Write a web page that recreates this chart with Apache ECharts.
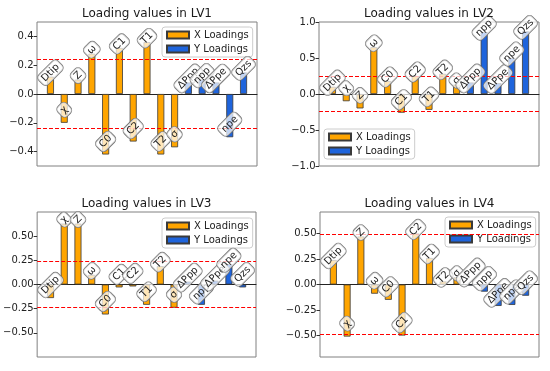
<!DOCTYPE html>
<html><head><meta charset="utf-8">
<script src="https://cdn.jsdelivr.net/npm/echarts@6/dist/echarts.min.js"></script>
<style>html,body{margin:0;padding:0;background:#fff}#c{width:550px;height:371px}</style>
</head><body><div id="c"></div>
<script>
// ---- data ----
const xVars = ['Dtip', 'χ', 'Z', 'ω', 'C0', 'C1', 'C2', 'T1', 'T2', 'σ'];
const yVars = ['ΔPpp', 'npp', 'ΔPpe', 'npe', 'Qzs'];
const titles = ['Loading values in LV1', 'Loading values in LV2', 'Loading values in LV3', 'Loading values in LV4'];

const lv1X = [0.12, -0.20, 0.10, 0.28, -0.42, 0.32, -0.33, 0.36, -0.42, -0.37];
const lv1Y = [0.08, 0.10, 0.08, -0.30, 0.15];
const lv2X = [0.10, -0.10, -0.20, 0.65, 0.18, -0.26, 0.25, -0.22, 0.28, 0.13];
const lv2Y = [0.16, 0.86, 0.15, 0.50, 0.87];
const lv3X = [-0.14, 0.63, 0.63, 0.10, -0.31, -0.03, -0.02, -0.21, 0.19, -0.24];
const lv3Y = [0.03, -0.21, 0.04, 0.21, -0.03];
const lv4X = [0.24, -0.51, 0.47, -0.09, -0.15, -0.50, 0.50, 0.26, 0.03, 0.07];
const lv4Y = [-0.01, -0.07, -0.21, -0.20, -0.11];

const thresholds = [0.24, 0.24, 0.245, 0.49];

const ticks1 = [-0.4, -0.2, 0, 0.2, 0.4];
const ticks2 = [-1, -0.5, 0, 0.5, 1];
const ticks3 = [-0.5, -0.25, 0, 0.25, 0.5];
const ticks4 = [-0.5, -0.25, 0, 0.25, 0.5];

// ---- layout / styles ----
const FONT = 'DejaVu Sans';
const ORANGE = '#FFA500';
const BLUE = '#1E64DC';
const panels = [
  {xv: lv1X, yv: lv1Y, ticks: ticks1, dec: 1, min: -0.5, max: 0.5, grid: {left: 37, top: 22, width: 220, height: 144}, legend: {left: 162, top: 27}},
  {xv: lv2X, yv: lv2Y, ticks: ticks2, dec: 1, min: -1, max: 1, grid: {left: 319, top: 22, width: 220, height: 144}, legend: {left: 324, top: 129}},
  {xv: lv3X, yv: lv3Y, ticks: ticks3, dec: 2, min: -0.75, max: 0.75, grid: {left: 37, top: 212, width: 219, height: 145}, legend: {left: 162, top: 218}},
  {xv: lv4X, yv: lv4Y, ticks: ticks4, dec: 2, min: -0.71, max: 0.71, grid: {left: 320, top: 212, width: 219, height: 145}, legend: {left: 445, top: 217}}
];

const names = xVars.concat(yVars);
function fmt(v, dec) { return (v < -1e-9 ? '\u2212' : '') + Math.abs(v).toFixed(dec); }

const option = {animation: false, title: [], grid: [], xAxis: [], yAxis: [], legend: [], series: []};

panels.forEach((p, k) => {
  option.grid.push(Object.assign({show: true, borderColor: '#808080', borderWidth: 1, backgroundColor: 'transparent'}, p.grid));
  option.title.push({
    text: titles[k], left: p.grid.left + p.grid.width / 2, top: p.grid.top - 14, textAlign: 'center', padding: 0,
    textStyle: {fontSize: 12, fontWeight: 'normal', color: '#1a1a1a', fontFamily: FONT}
  });
  option.xAxis.push({
    type: 'value', gridIndex: k, min: -0.975, max: 14.975,
    axisLabel: {show: false}, axisTick: {show: false}, splitLine: {show: false},
    axisLine: {show: true, onZero: true, lineStyle: {color: '#222', width: 1}}
  });
  option.yAxis.push({
    type: 'value', gridIndex: k, min: p.min, max: p.max, position: 'left',
    axisLine: {show: false, onZero: false}, splitLine: {show: false},
    axisTick: {show: true, inside: false, length: 3.5, lineStyle: {color: '#333'}, customValues: p.ticks},
    axisLabel: {customValues: p.ticks, fontSize: 10, color: '#222', fontFamily: FONT, margin: 3.5,
      formatter: (v) => fmt(v, p.dec)}
  });
  option.legend.push({
    left: p.legend.left, top: p.legend.top, orient: 'vertical', selectedMode: false,
    data: ['X Loadings', 'Y Loadings'], icon: 'rect', itemWidth: 22, itemHeight: 7, itemGap: 2,
    padding: [2, 4, 2, 4], backgroundColor: 'rgba(255,255,255,0.85)', borderColor: '#cccccc', borderWidth: 1, borderRadius: 3,
    textStyle: {fontSize: 10, color: '#222', fontFamily: FONT, lineHeight: 12}
  });
  const t = thresholds[k];
  option.series.push({
    type: 'bar', name: 'X Loadings', xAxisIndex: k, yAxisIndex: k, barWidth: 7, barGap: '-100%',
    data: p.xv.map((v, i) => [i, v]),
    itemStyle: {color: ORANGE, borderColor: '#3a3a3a', borderWidth: 0.8},
    markLine: {silent: true, symbol: 'none', label: {show: false}, animation: false,
      lineStyle: {color: '#ff0000', type: [4, 2], width: 1},
      data: [{yAxis: t}, {yAxis: -t}]}
  });
  option.series.push({
    type: 'bar', name: 'Y Loadings', xAxisIndex: k, yAxisIndex: k, barWidth: 7, barGap: '-100%',
    data: p.yv.map((v, i) => [i + xVars.length, v]),
    itemStyle: {color: BLUE, borderColor: '#3a3a3a', borderWidth: 0.8}
  });
  const all = p.xv.concat(p.yv);
  option.series.push({
    type: 'custom', name: 'labels' + k, xAxisIndex: k, yAxisIndex: k, z: 6, clip: false,
    data: all.map((v, i) => [i, v]),
    encode: {x: 0, y: 1},
    renderItem: (params, api) => {
      const i = api.value(0), v = api.value(1);
      const c = api.coord([i, v]);
      const dy = v >= 0 ? -4 : -13;
      return {
        type: 'text', x: c[0], y: c[1] + dy, rotation: Math.PI / 4,
        style: {
          text: names[params.dataIndex], fontSize: 10, fontFamily: FONT, fill: '#222',
          align: 'center', verticalAlign: 'middle',
          backgroundColor: 'rgba(255,255,255,0.72)', borderColor: '#777', borderWidth: 0.8, borderRadius: 4,
          padding: [2, 3, 1, 3]
        }
      };
    }
  });
});

const chart = echarts.init(document.getElementById('c'), null, {renderer: 'canvas'});
chart.setOption(option);
</script>
</body></html>
